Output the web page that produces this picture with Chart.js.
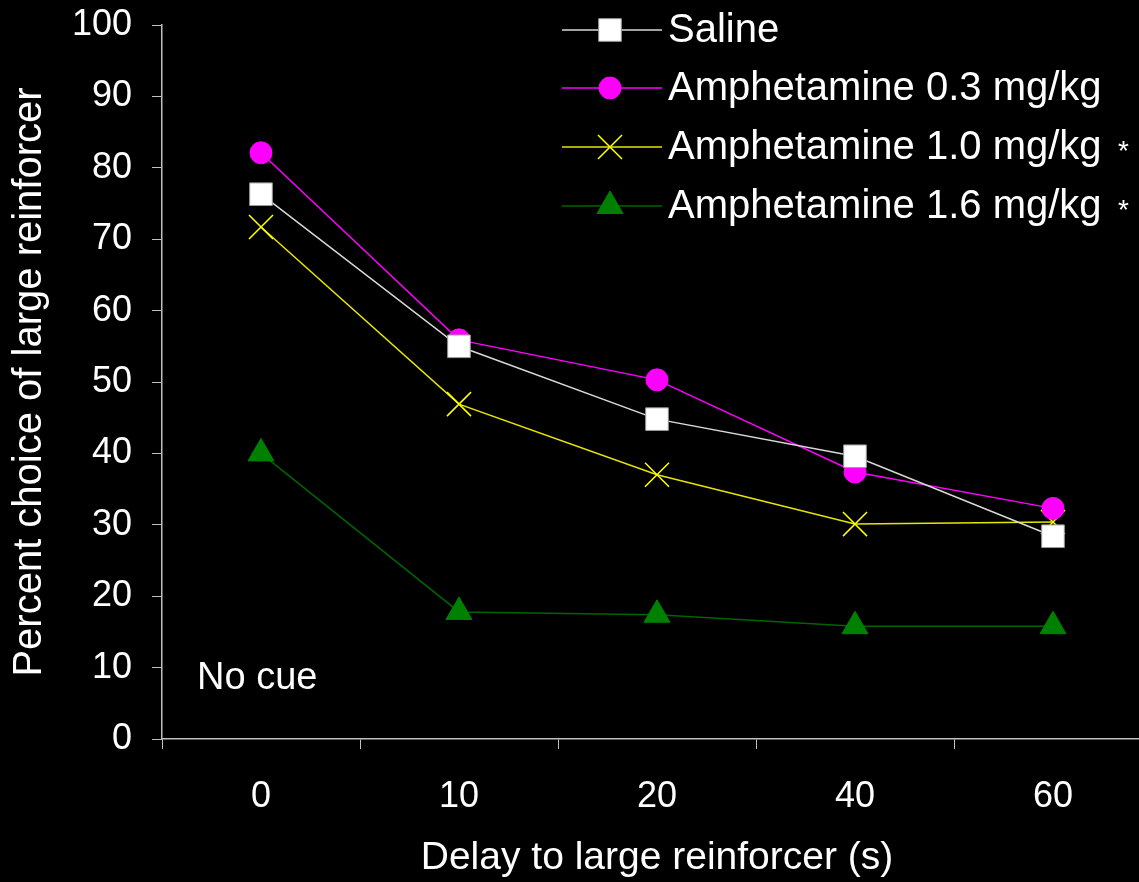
<!DOCTYPE html>
<html>
<head>
<meta charset="utf-8">
<script src="https://cdn.jsdelivr.net/npm/chart.js@4/dist/chart.umd.min.js"></script>
<style>
  html, body { margin: 0; padding: 0; background: #000; overflow: hidden; }
  #wrap { width: 1152px; height: 882px; }
</style>
</head>
<body>
<div id="wrap"><canvas id="myChart" width="1152" height="882"></canvas></div>
<script>
const delays = ["0", "10", "20", "40", "60"];
const yTicks = [0, 10, 20, 30, 40, 50, 60, 70, 80, 90, 100];

const saline = [76.3, 55.0, 44.8, 39.6, 28.4];
const amph03 = [82.1, 55.9, 50.3, 37.4, 32.3];
const amph10 = [71.7, 46.9, 37.0, 30.1, 30.4];
const amph16 = [40.0, 17.8, 17.4, 15.8, 15.8];

const seriesNames = ["Saline", "Amphetamine 0.3 mg/kg", "Amphetamine 1.0 mg/kg", "Amphetamine 1.6 mg/kg"];
const starred = [false, false, true, true];

Chart.defaults.font.family = "'Liberation Sans', Arial, sans-serif";
Chart.defaults.color = "#ffffff";

const axisColor = "#c0c0c0";

// legend drawn by hand: line with the marker in the middle, like the original
const legendAndNote = {
  id: "legendAndNote",
  afterDraw(chart) {
    const ctx = chart.ctx;
    const rowY = [30, 88, 147, 206];
    ctx.save();
    chart.data.datasets.forEach((ds, i) => {
      const y = rowY[i];
      ctx.strokeStyle = ds.borderColor;
      ctx.lineWidth = 1.5;
      ctx.beginPath();
      ctx.moveTo(562, y);
      ctx.lineTo(662, y);
      ctx.stroke();
      ctx.fillStyle = ds.pointBackgroundColor;
      ctx.strokeStyle = ds.pointBorderColor;
      ctx.lineWidth = ds.pointBorderWidth;
      Chart.helpers.drawPoint(ctx, {
        pointStyle: ds.pointStyle,
        radius: ds.pointRadius,
        rotation: 0,
        borderWidth: ds.pointBorderWidth
      }, 610, y);
      ctx.fillStyle = "#ffffff";
      ctx.font = "40px 'Liberation Sans', Arial, sans-serif";
      ctx.textAlign = "left";
      ctx.textBaseline = "middle";
      ctx.fillText(seriesNames[i], 668, y + 1);
      if (starred[i]) {
        ctx.font = "28px 'Liberation Sans', Arial, sans-serif";
        ctx.fillText("*", 1118, y + 5);
      }
    });
    ctx.font = "38px 'Liberation Sans', Arial, sans-serif";
    ctx.fillStyle = "#ffffff";
    ctx.textAlign = "left";
    ctx.textBaseline = "middle";
    ctx.fillText("No cue", 197, 679);
    ctx.restore();
  }
};

new Chart("myChart", {
  type: "line",
  data: {
    labels: delays,
    datasets: [{
      label: seriesNames[0],
      data: saline,
      borderColor: "#d9d9d9",
      borderWidth: 1.5,
      pointStyle: "rect",
      pointRadius: 16,
      pointBackgroundColor: "#ffffff",
      pointBorderColor: "#9a9a9a",
      pointBorderWidth: 1,
      fill: false
    }, {
      label: seriesNames[1],
      data: amph03,
      borderColor: "#ff00ff",
      borderWidth: 1.5,
      pointStyle: "circle",
      pointRadius: 11,
      pointBackgroundColor: "#ff00ff",
      pointBorderColor: "#ff00ff",
      pointBorderWidth: 1,
      fill: false
    }, {
      label: seriesNames[2],
      data: amph10,
      borderColor: "#e6e600",
      borderWidth: 1.5,
      pointStyle: "crossRot",
      pointRadius: 17,
      pointBackgroundColor: "#ffff00",
      pointBorderColor: "#ffff00",
      pointBorderWidth: 1.5,
      fill: false
    }, {
      label: seriesNames[3],
      data: amph16,
      borderColor: "#006400",
      borderWidth: 1.5,
      pointStyle: "triangle",
      pointRadius: 15,
      pointBackgroundColor: "#008000",
      pointBorderColor: "#008000",
      pointBorderWidth: 1,
      fill: false
    }]
  },
  options: {
    responsive: false,
    animation: false,
    events: [],
    layout: { autoPadding: false, padding: { top: 25, right: 0, left: 0, bottom: 0 } },
    plugins: {
      legend: { display: false },
      tooltip: { enabled: false }
    },
    scales: {
      x: {
        type: "category",
        offset: true,
        grid: { offset: true, drawOnChartArea: false, drawTicks: true, tickLength: 10, color: axisColor },
        border: { display: true, color: axisColor, width: 1.5 },
        ticks: { font: { size: 36 }, color: "#ffffff", padding: 26, maxRotation: 0 },
        title: { display: true, text: "Delay to large reinforcer (s)", font: { size: 39 }, color: "#ffffff", padding: 0 },
        afterFit(scale) { scale.height = 143; }
      },
      y: {
        min: 0,
        max: 100,
        afterBuildTicks(scale) { scale.ticks = yTicks.map(v => ({ value: v })); },
        grid: { drawOnChartArea: false, drawTicks: true, tickLength: 10, color: axisColor },
        border: { display: true, color: axisColor, width: 1.5 },
        ticks: { font: { size: 36 }, color: "#ffffff", padding: 20 },
        title: { display: true, text: "Percent choice of large reinforcer", font: { size: 40 }, color: "#ffffff", padding: { top: 6, bottom: 0 } },
        afterFit(scale) {
          scale.width = 162;
          scale.paddingTop = 0;
          scale.paddingBottom = 0;
        }
      }
    }
  },
  plugins: [legendAndNote]
});
</script>
</body>
</html>
